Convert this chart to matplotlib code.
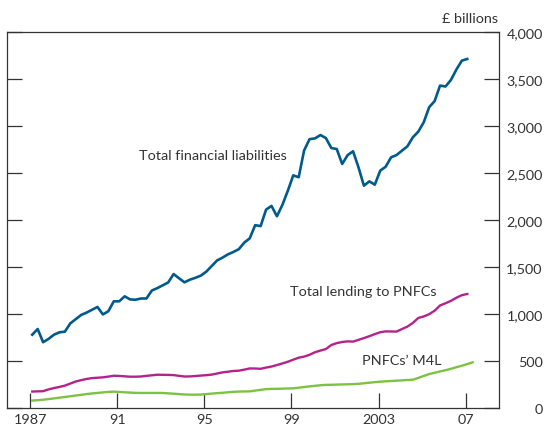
import numpy as np
import matplotlib
matplotlib.use("Agg")
import matplotlib.pyplot as plt

plt.rcParams['font.family'] = ['Lato', 'DejaVu Sans']

# Quarterly data, 1987 Q1 onwards (£ billions)
start_year = 1987
fin_liab = [780, 840, 700, 735, 780, 805, 812, 900, 945, 990, 1015, 1045, 1075, 995, 1030,
            1135, 1135, 1188, 1155, 1152, 1165, 1165, 1250, 1275, 1305, 1335, 1425, 1380,
            1337, 1365, 1385, 1408, 1450, 1510, 1570, 1600, 1635, 1660, 1690, 1760, 1805,
            1945, 1935, 2110, 2150, 2040, 2160, 2310, 2475, 2455, 2740, 2860, 2868, 2904,
            2872, 2766, 2755, 2596, 2690, 2731, 2560, 2365, 2411, 2376, 2525, 2567, 2667,
            2691, 2738, 2784, 2880, 2940, 3040, 3200, 3265, 3430, 3420, 3490, 3600, 3695, 3713]
lending = [175, 177, 179, 198, 212, 224, 238, 260, 282, 296, 309, 318, 322, 326, 334, 343,
           341, 337, 333, 333, 335, 342, 348, 354, 353, 352, 350, 342, 335, 336, 340, 345,
           349, 355, 367, 379, 386, 394, 397, 408, 421, 420, 417, 430, 441, 457, 474, 492,
           514, 535, 547, 566, 593, 611, 627, 670, 690, 702, 709, 706, 725, 744, 764, 786,
           806, 815, 814, 813, 840, 866, 905, 958, 974, 998, 1035, 1091, 1114, 1140, 1173,
           1200, 1213]
m4l = [79, 83, 88, 95, 102, 110, 117, 125, 133, 140, 148, 155, 160, 166, 171, 174, 171, 167,
       164, 161, 160, 160, 160, 160, 160, 156, 152, 148, 144, 142, 142, 143, 148, 153, 158,
       162, 167, 172, 175, 176, 177, 185, 193, 201, 203, 204, 206, 208, 209, 216, 223, 230,
       236, 242, 246, 247, 249, 251, 252, 254, 257, 263, 269, 275, 280, 284, 287, 291, 294,
       298, 301, 320, 341, 361, 375, 389, 402, 417, 434, 450, 467, 486]

xtick_years = [1987, 1991, 1995, 1999, 2003, 2007]
xtick_labels = ['1987', '91', '95', '99', '2003', '07']
ytick_values = [0, 500, 1000, 1500, 2000, 2500, 3000, 3500, 4000]
ytick_labels = ['0', '500', '1,000', '1,500', '2,000', '2,500', '3,000', '3,500', '4,000']

def qx(series):
    return start_year + 0.25 * np.arange(len(series)) + 0.08

blue = '#005a8c'
magenta = '#b4238c'
green = '#7dc242'
txt = '#333333'
fs = 10.4

fig = plt.figure(figsize=(5.44, 4.35), dpi=100)
ax = fig.add_axes([7/544, 26/435, 492/544, 376/435])

ax.plot(qx(fin_liab), fin_liab, color=blue, lw=1.9)
ax.plot(qx(lending), lending, color=magenta, lw=1.7)
ax.plot(qx(m4l), m4l, color=green, lw=1.7)

ax.set_xlim(1985.92, 2008.54)
ax.set_ylim(0, 4000)

ax.set_xticks(xtick_years)
ax.set_xticklabels(xtick_labels)
ax.set_yticks(ytick_values)
ax.set_yticklabels(ytick_labels)

ax.tick_params(axis='x', direction='in', length=10.5, width=0.9, color='#333333',
               labelsize=fs, labelcolor=txt, pad=3.5)
ax.tick_params(axis='y', direction='in', length=11, width=0.9, color='#333333',
               left=True, right=True, labelleft=False, labelright=True,
               labelsize=fs, labelcolor=txt, pad=31.5)
for lab in ax.get_yticklabels():
    lab.set_horizontalalignment('right')

for s in ax.spines.values():
    s.set_color('#333333')
    s.set_linewidth(0.9)

ax.text(1991.99, 2690, 'Total financial liabilities', fontsize=fs, color=txt,
        va='center', ha='left')
ax.text(1998.93, 1241, 'Total lending to PNFCs', fontsize=fs, color=txt,
        va='center', ha='left')
ax.text(2002.24, 515, 'PNFCs\u2019 M4L', fontsize=fs, color=txt, va='center', ha='left')

fig.text(498/544, 1 - 19/435, '£ billions', fontsize=fs, color=txt, ha='right', va='center')

fig.savefig('out.png', dpi=100)
